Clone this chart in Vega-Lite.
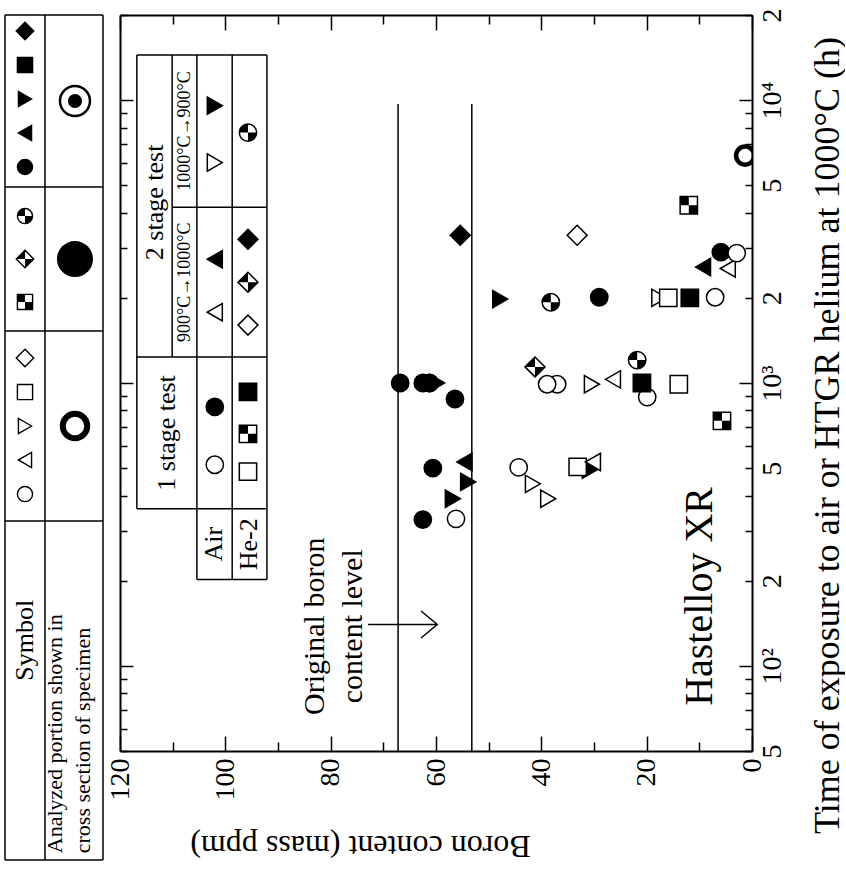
{
  "$schema": "https://vega.github.io/schema/vega-lite/v6.json",
  "background": "white",
  "padding": {"left": 4, "top": 7, "right": 0, "bottom": 12},
  "spacing": 17,
  "bounds": "flush",
  "config": {
    "view": {"stroke": null},
    "text": {"font": "Liberation Serif", "color": "black"},
    "axis": {"labelFont": "Liberation Serif", "titleFont": "Liberation Serif"}
  },
  "datasets": {
    "tlh": [
      {"u0": 0, "u1": 100, "v": 0},
      {"u0": 0, "u1": 100, "v": 20.36},
      {"u0": 0, "u1": 100, "v": 37.4},
      {"u0": 0, "u1": 100, "v": 59.88},
      {"u0": 0, "u1": 100, "v": 100}
    ],
    "tlv": [
      {"u": 0, "v0": 0, "v1": 100},
      {"u": 40.8, "v0": 0, "v1": 100},
      {"u": 100, "v0": 0, "v1": 100}
    ],
    "tsym": [
      {"u": 20.4, "v": 1.89, "sym": "d_fill"},
      {"u": 20.4, "v": 5.92, "sym": "sq_fill"},
      {"u": 20.4, "v": 9.94, "sym": "tr_fill"},
      {"u": 20.4, "v": 13.96, "sym": "tl_fill"},
      {"u": 20.4, "v": 17.99, "sym": "c_fill"},
      {"u": 20.4, "v": 23.79, "sym": "c_quarter"},
      {"u": 20.4, "v": 28.88, "sym": "d_half"},
      {"u": 20.4, "v": 33.96, "sym": "sq_check"},
      {"u": 20.4, "v": 40.59, "sym": "d_open"},
      {"u": 20.4, "v": 44.62, "sym": "sq_open"},
      {"u": 20.4, "v": 48.64, "sym": "tr_open"},
      {"u": 20.4, "v": 52.66, "sym": "tl_open"},
      {"u": 20.4, "v": 56.69, "sym": "c_open"}
    ],
    "tana": [
      {"u": 71.4, "v": 10.18, "kind": "dot_ring"},
      {"u": 71.4, "v": 28.88, "kind": "disc"},
      {"u": 71.4, "v": 48.64, "kind": "thick_ring"}
    ],
    "ttext1": [{"u": 20.4, "v": 74, "label": "Symbol"}],
    "ttext2": [{"u": 51.3, "v": 99.2, "label": "Analyzed portion shown in\ncross section of specimen"}],
    "levels": [
      {"b": 67.2, "t0": 50, "t1": 9700},
      {"b": 53.2, "t0": 50, "t1": 9700}
    ],
    "bv": [
      {"b": 116.8, "t0": 359, "t1": 14450},
      {"b": 110.1, "t0": 1235, "t1": 14450},
      {"b": 105.4, "t0": 202, "t1": 14450},
      {"b": 98.7, "t0": 202, "t1": 14450},
      {"b": 92.1, "t0": 202, "t1": 14450}
    ],
    "bh": [
      {"b0": 116.8, "b1": 92.1, "t": 14450},
      {"b0": 110.1, "b1": 92.1, "t": 4180},
      {"b0": 116.8, "b1": 92.1, "t": 1235},
      {"b0": 116.8, "b1": 92.1, "t": 359},
      {"b0": 105.4, "b1": 92.1, "t": 202}
    ],
    "tx26": [
      {"b": 113.4, "t": 4350, "label": "2 stage test"},
      {"b": 111.1, "t": 666, "label": "1 stage test"},
      {"b": 102.2, "t": 269, "label": "Air"},
      {"b": 95.6, "t": 269, "label": "He-2"}
    ],
    "tx18": [
      {"b": 107.7, "t": 2272, "label": "900°C→1000°C"},
      {"b": 107.7, "t": 7776, "label": "1000°C→900°C"}
    ],
    "tx30": [{"b": 83.0, "t": 138, "label": "Original boron\ncontent level"}],
    "tx40": [{"b": 9.9, "t": 176, "label": "Hastelloy XR"}],
    "arrow": [{"b0": 72.9, "b1": 59.8, "t": 140}],
    "arrowhead": [{"b": 61.3, "t": 140}],
    "pts": [
      {"b": 55.4, "t": 3330, "sym": "d_fill"},
      {"b": 33.2, "t": 3330, "sym": "d_open"},
      {"b": 12.0, "t": 4250, "sym": "sq_check"},
      {"b": 9.3, "t": 2570, "sym": "tl_fill"},
      {"b": 4.6, "t": 2540, "sym": "tl_open"},
      {"b": 5.9, "t": 2900, "sym": "c_fill"},
      {"b": 2.9, "t": 2880, "sym": "c_open"},
      {"b": 47.8, "t": 1980, "sym": "tr_fill"},
      {"b": 38.2, "t": 1930, "sym": "c_quarter"},
      {"b": 29.0, "t": 2010, "sym": "c_fill"},
      {"b": 17.6, "t": 2000, "sym": "tr_open"},
      {"b": 15.9, "t": 2000, "sym": "sq_open"},
      {"b": 11.8, "t": 2000, "sym": "sq_fill"},
      {"b": 7.0, "t": 2010, "sym": "c_open"},
      {"b": 41.2, "t": 1140, "sym": "d_half"},
      {"b": 37.0, "t": 990, "sym": "c_open"},
      {"b": 38.9, "t": 990, "sym": "c_open"},
      {"b": 30.4, "t": 990, "sym": "tr_open"},
      {"b": 26.4, "t": 1030, "sym": "tl_open"},
      {"b": 21.8, "t": 1205, "sym": "c_quarter"},
      {"b": 19.9, "t": 892, "sym": "c_open"},
      {"b": 20.9, "t": 1000, "sym": "sq_fill"},
      {"b": 13.9, "t": 990, "sym": "sq_open"},
      {"b": 5.7, "t": 735, "sym": "sq_check"},
      {"b": 66.8, "t": 1000, "sym": "c_fill"},
      {"b": 62.5, "t": 1000, "sym": "c_fill"},
      {"b": 61.2, "t": 1000, "sym": "c_fill"},
      {"b": 59.8, "t": 1000, "sym": "tr_fill"},
      {"b": 56.4, "t": 878, "sym": "c_fill"},
      {"b": 60.6, "t": 500, "sym": "c_fill"},
      {"b": 54.6, "t": 526, "sym": "tl_fill"},
      {"b": 53.9, "t": 447, "sym": "tr_fill"},
      {"b": 56.8, "t": 390, "sym": "tr_fill"},
      {"b": 62.5, "t": 329, "sym": "c_fill"},
      {"b": 56.2, "t": 331, "sym": "c_open"},
      {"b": 44.3, "t": 503, "sym": "c_open"},
      {"b": 41.6, "t": 440, "sym": "tr_open"},
      {"b": 38.7, "t": 390, "sym": "tr_open"},
      {"b": 30.8, "t": 494, "sym": "tr_fill"},
      {"b": 33.1, "t": 505, "sym": "sq_open"},
      {"b": 30.2, "t": 526, "sym": "tl_open"},
      {"b": 1.3, "t": 6370, "sym": "ring_bold"},
      {"b": 102.0, "t": 9563, "sym": "tr_fill"},
      {"b": 102.0, "t": 6018, "sym": "tr_open"},
      {"b": 102.0, "t": 2738, "sym": "tl_fill"},
      {"b": 102.0, "t": 1780, "sym": "tl_open"},
      {"b": 102.0, "t": 823, "sym": "c_fill"},
      {"b": 102.0, "t": 514, "sym": "c_open"},
      {"b": 95.7, "t": 7680, "sym": "c_quarter"},
      {"b": 95.7, "t": 3220, "sym": "d_fill"},
      {"b": 95.7, "t": 2272, "sym": "d_half"},
      {"b": 95.7, "t": 1602, "sym": "d_open"},
      {"b": 95.7, "t": 930, "sym": "sq_fill"},
      {"b": 95.7, "t": 661, "sym": "sq_check"},
      {"b": 95.7, "t": 486, "sym": "sq_open"}
    ]
  },
  "hconcat": [
    {
      "width": 98,
      "height": 845,
      "layer": [
        {
          "data": {"name": "tlh"},
          "mark": {"type": "rule", "color": "black", "strokeWidth": 1.5},
          "encoding": {
            "x": {"field": "u0", "type": "quantitative", "scale": {"domain": [0, 100], "nice": false, "zero": false}, "axis": null},
            "x2": {"field": "u1"},
            "y": {"field": "v", "type": "quantitative", "scale": {"domain": [0, 100], "reverse": true, "nice": false, "zero": false}, "axis": null}
          }
        },
        {
          "data": {"name": "tlv"},
          "mark": {"type": "rule", "color": "black", "strokeWidth": 1.5},
          "encoding": {
            "x": {"field": "u", "type": "quantitative", "scale": {"domain": [0, 100], "nice": false, "zero": false}, "axis": null},
            "y": {"field": "v0", "type": "quantitative", "scale": {"domain": [0, 100], "reverse": true, "nice": false, "zero": false}, "axis": null},
            "y2": {"field": "v1"}
          }
        },
        {
          "data": {"name": "tsym"},
          "mark": {"type": "point", "filled": true, "stroke": "black", "strokeWidth": 1.4, "size": 230, "opacity": 1},
          "encoding": {
            "x": {"field": "u", "type": "quantitative", "scale": {"domain": [0, 100], "nice": false, "zero": false}, "axis": null},
            "y": {"field": "v", "type": "quantitative", "scale": {"domain": [0, 100], "reverse": true, "nice": false, "zero": false}, "axis": null},
            "shape": {"field": "sym", "type": "nominal", "legend": null, "scale": {"domain": ["c_open", "c_fill", "c_quarter", "sq_open", "sq_check", "sq_fill", "tl_open", "tl_fill", "tr_open", "tr_fill", "d_open", "d_half", "d_fill"], "range": ["circle", "circle", "circle", "square", "square", "square", "triangle-left", "triangle-left", "triangle-right", "triangle-right", "M-1.15,0L0,-1.15L1.15,0L0,1.15Z", "M-1.15,0L0,-1.15L1.15,0L0,1.15Z", "M-1.15,0L0,-1.15L1.15,0L0,1.15Z"]}},
            "fill": {"field": "sym", "type": "nominal", "legend": null, "scale": {"domain": ["c_open", "c_fill", "c_quarter", "sq_open", "sq_check", "sq_fill", "tl_open", "tl_fill", "tr_open", "tr_fill", "d_open", "d_half", "d_fill"], "range": ["white", "black", "white", "white", "white", "black", "white", "black", "white", "black", "white", "white", "black"]}}
          }
        },
        {
          "data": {"name": "tsym"},
          "transform": [{"filter": "datum.sym == 'sq_check'"}],
          "mark": {"type": "point", "shape": "M-1,-1H0V0H-1Z M0,0H1V1H0Z", "filled": true, "fill": "black", "strokeWidth": 0, "size": 230, "opacity": 1},
          "encoding": {
            "x": {"field": "u", "type": "quantitative", "scale": {"domain": [0, 100], "nice": false, "zero": false}, "axis": null},
            "y": {"field": "v", "type": "quantitative", "scale": {"domain": [0, 100], "reverse": true, "nice": false, "zero": false}, "axis": null}
          }
        },
        {
          "data": {"name": "tsym"},
          "transform": [{"filter": "datum.sym == 'c_quarter'"}],
          "mark": {"type": "point", "shape": "M0,0L-1,0A1,1 0 0 1 0,-1Z M0,0L1,0A1,1 0 0 1 0,1Z", "filled": true, "fill": "black", "strokeWidth": 0, "size": 230, "opacity": 1},
          "encoding": {
            "x": {"field": "u", "type": "quantitative", "scale": {"domain": [0, 100], "nice": false, "zero": false}, "axis": null},
            "y": {"field": "v", "type": "quantitative", "scale": {"domain": [0, 100], "reverse": true, "nice": false, "zero": false}, "axis": null}
          }
        },
        {
          "data": {"name": "tsym"},
          "transform": [{"filter": "datum.sym == 'd_half'"}],
          "mark": {"type": "point", "shape": "M0,-1.15L-1.15,0L0,0Z M0,1.15L1.15,0L0,0Z", "filled": true, "fill": "black", "strokeWidth": 0, "size": 230, "opacity": 1},
          "encoding": {
            "x": {"field": "u", "type": "quantitative", "scale": {"domain": [0, 100], "nice": false, "zero": false}, "axis": null},
            "y": {"field": "v", "type": "quantitative", "scale": {"domain": [0, 100], "reverse": true, "nice": false, "zero": false}, "axis": null}
          }
        },
        {
          "data": {"name": "tana"},
          "transform": [{"filter": "datum.kind == 'dot_ring'"}],
          "mark": {"type": "point", "shape": "circle", "filled": false, "stroke": "black", "strokeWidth": 2.5, "size": 900, "opacity": 1},
          "encoding": {
            "x": {"field": "u", "type": "quantitative", "scale": {"domain": [0, 100], "nice": false, "zero": false}, "axis": null},
            "y": {"field": "v", "type": "quantitative", "scale": {"domain": [0, 100], "reverse": true, "nice": false, "zero": false}, "axis": null}
          }
        },
        {
          "data": {"name": "tana"},
          "transform": [{"filter": "datum.kind == 'dot_ring'"}],
          "mark": {"type": "point", "shape": "circle", "filled": true, "fill": "black", "size": 200, "opacity": 1},
          "encoding": {
            "x": {"field": "u", "type": "quantitative", "scale": {"domain": [0, 100], "nice": false, "zero": false}, "axis": null},
            "y": {"field": "v", "type": "quantitative", "scale": {"domain": [0, 100], "reverse": true, "nice": false, "zero": false}, "axis": null}
          }
        },
        {
          "data": {"name": "tana"},
          "transform": [{"filter": "datum.kind == 'disc'"}],
          "mark": {"type": "point", "shape": "circle", "filled": true, "fill": "black", "size": 1300, "opacity": 1},
          "encoding": {
            "x": {"field": "u", "type": "quantitative", "scale": {"domain": [0, 100], "nice": false, "zero": false}, "axis": null},
            "y": {"field": "v", "type": "quantitative", "scale": {"domain": [0, 100], "reverse": true, "nice": false, "zero": false}, "axis": null}
          }
        },
        {
          "data": {"name": "tana"},
          "transform": [{"filter": "datum.kind == 'thick_ring'"}],
          "mark": {"type": "point", "shape": "circle", "filled": false, "stroke": "black", "strokeWidth": 6, "size": 600, "opacity": 1},
          "encoding": {
            "x": {"field": "u", "type": "quantitative", "scale": {"domain": [0, 100], "nice": false, "zero": false}, "axis": null},
            "y": {"field": "v", "type": "quantitative", "scale": {"domain": [0, 100], "reverse": true, "nice": false, "zero": false}, "axis": null}
          }
        },
        {
          "data": {"name": "ttext1"},
          "mark": {"type": "text", "angle": 270, "font": "Liberation Serif", "fontSize": 26, "align": "center", "baseline": "middle", "color": "black"},
          "encoding": {
            "x": {"field": "u", "type": "quantitative", "scale": {"domain": [0, 100], "nice": false, "zero": false}, "axis": null},
            "y": {"field": "v", "type": "quantitative", "scale": {"domain": [0, 100], "reverse": true, "nice": false, "zero": false}, "axis": null},
            "text": {"field": "label"}
          }
        },
        {
          "data": {"name": "ttext2"},
          "mark": {"type": "text", "angle": 270, "font": "Liberation Serif", "fontSize": 22, "lineHeight": 28, "lineBreak": "\n", "align": "left", "baseline": "middle", "color": "black"},
          "encoding": {
            "x": {"field": "u", "type": "quantitative", "scale": {"domain": [0, 100], "nice": false, "zero": false}, "axis": null},
            "y": {"field": "v", "type": "quantitative", "scale": {"domain": [0, 100], "reverse": true, "nice": false, "zero": false}, "axis": null},
            "text": {"field": "label"}
          }
        }
      ]
    },
    {
      "width": 632,
      "height": 736,
      "resolve": {"axis": {"x": "independent", "y": "independent"}},
      "layer": [
        {
          "data": {"name": "levels"},
          "mark": {"type": "rule", "color": "black", "strokeWidth": 1.5},
          "encoding": {
            "x": {"field": "b", "type": "quantitative", "scale": {"domain": [0, 120], "reverse": true, "nice": false, "zero": false},
              "axis": {"orient": "bottom", "values": [0, 20, 40, 60, 80, 100, 120], "domainColor": "black", "domainWidth": 2, "tickColor": "black", "tickWidth": 1.5, "tickSize": -15, "labelAngle": 270, "labelAlign": "right", "labelBaseline": "middle", "labelPadding": 22, "labelFont": "Liberation Serif", "labelFontSize": 28, "labelColor": "black", "labelFlush": false, "labelOverlap": false, "labelBound": false, "grid": false, "title": "Boron content (mass ppm)", "titleFont": "Liberation Serif", "titleFontSize": 32, "titleFontWeight": "normal", "titleColor": "black", "titleAngle": 180, "titleAlign": "center", "titleBaseline": "middle", "titleX": 240, "titleY": 94}},
            "y": {"field": "t0", "type": "quantitative", "scale": {"type": "log", "domain": [50, 20000], "nice": false},
              "axis": {"orient": "right", "values": [50, 60, 70, 80, 90, 200, 300, 400, 500, 600, 700, 800, 900, 2000, 3000, 4000, 5000, 6000, 7000, 8000, 9000, 20000], "domain": false, "tickColor": "black", "tickWidth": 1.5, "tickSize": -7, "labelExpr": "datum.value == 50 || datum.value == 500 || datum.value == 5000 ? '5' : (datum.value == 200 || datum.value == 2000 || datum.value == 20000 ? '2' : '')", "labelAngle": 270, "labelAlign": "center", "labelBaseline": "top", "labelPadding": 13, "labelFont": "Liberation Serif", "labelFontSize": 28, "labelColor": "black", "labelFlush": false, "labelOverlap": false, "labelBound": false, "grid": false, "title": null}},
            "y2": {"field": "t1"}
          }
        },
        {
          "data": {"name": "bv"},
          "mark": {"type": "rule", "color": "black", "strokeWidth": 1.5},
          "encoding": {
            "x": {"field": "b", "type": "quantitative", "scale": {"domain": [0, 120], "reverse": true, "nice": false, "zero": false},
              "axis": {"orient": "top", "values": [0, 20, 40, 60, 80, 100, 120], "domainColor": "black", "domainWidth": 2, "tickColor": "black", "tickWidth": 1.5, "tickSize": -15, "labels": false, "grid": false, "title": null}},
            "y": {"field": "t0", "type": "quantitative", "scale": {"type": "log", "domain": [50, 20000], "nice": false},
              "axis": {"orient": "right", "values": [100, 1000, 10000], "domainColor": "black", "domainWidth": 2, "tickColor": "black", "tickWidth": 1.5, "tickSize": -13, "labelExpr": "datum.value == 100 ? '10²' : (datum.value == 1000 ? '10³' : '10⁴')", "labelAngle": 270, "labelAlign": "center", "labelBaseline": "top", "labelPadding": 19, "labelFont": "Liberation Serif", "labelFontSize": 28, "labelColor": "black", "labelFlush": false, "labelOverlap": false, "labelBound": false, "grid": false, "title": "Time of exposure to air or HTGR helium at 1000°C (h)", "titleFont": "Liberation Serif", "titleFontSize": 36, "titleFontWeight": "normal", "titleColor": "black", "titleAngle": 270, "titleAlign": "center", "titleBaseline": "middle", "titleX": 75, "titleY": 420}},
            "y2": {"field": "t1"}
          }
        },
        {
          "data": {"name": "bh"},
          "mark": {"type": "rule", "color": "black", "strokeWidth": 1.5},
          "encoding": {
            "x": {"field": "b0", "type": "quantitative", "scale": {"domain": [0, 120], "reverse": true, "nice": false, "zero": false},
              "axis": {"orient": "bottom", "values": [10, 30, 50, 70, 90, 110], "domain": false, "tickColor": "black", "tickWidth": 1.5, "tickSize": -9, "labels": false, "grid": false, "title": null}},
            "x2": {"field": "b1"},
            "y": {"field": "t", "type": "quantitative", "scale": {"type": "log", "domain": [50, 20000], "nice": false},
              "axis": {"orient": "left", "values": [100, 1000, 10000], "domainColor": "black", "domainWidth": 2, "tickColor": "black", "tickWidth": 1.5, "tickSize": -13, "labels": false, "grid": false, "title": null}}
          }
        },
        {
          "data": {"name": "tx26"},
          "mark": {"type": "text", "angle": 270, "font": "Liberation Serif", "fontSize": 26, "align": "center", "baseline": "middle", "color": "black"},
          "encoding": {
            "x": {"field": "b", "type": "quantitative", "scale": {"domain": [0, 120], "reverse": true, "nice": false, "zero": false},
              "axis": {"orient": "top", "values": [10, 30, 50, 70, 90, 110], "domain": false, "tickColor": "black", "tickWidth": 1.5, "tickSize": -9, "labels": false, "grid": false, "title": null}},
            "y": {"field": "t", "type": "quantitative", "scale": {"type": "log", "domain": [50, 20000], "nice": false},
              "axis": {"orient": "left", "values": [50, 60, 70, 80, 90, 200, 300, 400, 500, 600, 700, 800, 900, 2000, 3000, 4000, 5000, 6000, 7000, 8000, 9000, 20000], "domain": false, "tickColor": "black", "tickWidth": 1.5, "tickSize": -7, "labels": false, "grid": false, "title": null}},
            "text": {"field": "label"}
          }
        },
        {
          "data": {"name": "tx18"},
          "mark": {"type": "text", "angle": 270, "font": "Liberation Serif", "fontSize": 18, "align": "center", "baseline": "middle", "color": "black"},
          "encoding": {
            "x": {"field": "b", "type": "quantitative", "scale": {"domain": [0, 120], "reverse": true, "nice": false, "zero": false}, "axis": null},
            "y": {"field": "t", "type": "quantitative", "scale": {"type": "log", "domain": [50, 20000], "nice": false}, "axis": null},
            "text": {"field": "label"}
          }
        },
        {
          "data": {"name": "tx30"},
          "mark": {"type": "text", "angle": 270, "font": "Liberation Serif", "fontSize": 30, "lineHeight": 38, "lineBreak": "\n", "align": "center", "baseline": "middle", "color": "black"},
          "encoding": {
            "x": {"field": "b", "type": "quantitative", "scale": {"domain": [0, 120], "reverse": true, "nice": false, "zero": false}, "axis": null},
            "y": {"field": "t", "type": "quantitative", "scale": {"type": "log", "domain": [50, 20000], "nice": false}, "axis": null},
            "text": {"field": "label"}
          }
        },
        {
          "data": {"name": "tx40"},
          "mark": {"type": "text", "angle": 270, "font": "Liberation Serif", "fontSize": 40, "align": "center", "baseline": "middle", "color": "black"},
          "encoding": {
            "x": {"field": "b", "type": "quantitative", "scale": {"domain": [0, 120], "reverse": true, "nice": false, "zero": false}, "axis": null},
            "y": {"field": "t", "type": "quantitative", "scale": {"type": "log", "domain": [50, 20000], "nice": false}, "axis": null},
            "text": {"field": "label"}
          }
        },
        {
          "data": {"name": "arrow"},
          "mark": {"type": "rule", "color": "black", "strokeWidth": 1.5},
          "encoding": {
            "x": {"field": "b0", "type": "quantitative", "scale": {"domain": [0, 120], "reverse": true, "nice": false, "zero": false}, "axis": null},
            "x2": {"field": "b1"},
            "y": {"field": "t", "type": "quantitative", "scale": {"type": "log", "domain": [50, 20000], "nice": false}, "axis": null}
          }
        },
        {
          "data": {"name": "arrowhead"},
          "mark": {"type": "point", "shape": "M-0.6,-1L0.6,0L-0.6,1", "filled": false, "stroke": "black", "strokeWidth": 1.5, "size": 729, "opacity": 1},
          "encoding": {
            "x": {"field": "b", "type": "quantitative", "scale": {"domain": [0, 120], "reverse": true, "nice": false, "zero": false}, "axis": null},
            "y": {"field": "t", "type": "quantitative", "scale": {"type": "log", "domain": [50, 20000], "nice": false}, "axis": null}
          }
        },
        {
          "data": {"name": "pts"},
          "transform": [{"filter": "datum.sym != 'ring_bold'"}],
          "mark": {"type": "point", "filled": true, "stroke": "black", "strokeWidth": 1.5, "size": 300, "opacity": 1},
          "encoding": {
            "x": {"field": "b", "type": "quantitative", "scale": {"domain": [0, 120], "reverse": true, "nice": false, "zero": false}, "axis": null},
            "y": {"field": "t", "type": "quantitative", "scale": {"type": "log", "domain": [50, 20000], "nice": false}, "axis": null},
            "shape": {"field": "sym", "type": "nominal", "legend": null, "scale": {"domain": ["c_open", "c_fill", "c_quarter", "sq_open", "sq_check", "sq_fill", "tl_open", "tl_fill", "tr_open", "tr_fill", "d_open", "d_half", "d_fill"], "range": ["circle", "circle", "circle", "square", "square", "square", "triangle-left", "triangle-left", "triangle-right", "triangle-right", "M-1.15,0L0,-1.15L1.15,0L0,1.15Z", "M-1.15,0L0,-1.15L1.15,0L0,1.15Z", "M-1.15,0L0,-1.15L1.15,0L0,1.15Z"]}},
            "fill": {"field": "sym", "type": "nominal", "legend": null, "scale": {"domain": ["c_open", "c_fill", "c_quarter", "sq_open", "sq_check", "sq_fill", "tl_open", "tl_fill", "tr_open", "tr_fill", "d_open", "d_half", "d_fill"], "range": ["white", "black", "white", "white", "white", "black", "white", "black", "white", "black", "white", "white", "black"]}}
          }
        },
        {
          "data": {"name": "pts"},
          "transform": [{"filter": "datum.sym == 'sq_check'"}],
          "mark": {"type": "point", "shape": "M-1,-1H0V0H-1Z M0,0H1V1H0Z", "filled": true, "fill": "black", "strokeWidth": 0, "size": 300, "opacity": 1},
          "encoding": {
            "x": {"field": "b", "type": "quantitative", "scale": {"domain": [0, 120], "reverse": true, "nice": false, "zero": false}, "axis": null},
            "y": {"field": "t", "type": "quantitative", "scale": {"type": "log", "domain": [50, 20000], "nice": false}, "axis": null}
          }
        },
        {
          "data": {"name": "pts"},
          "transform": [{"filter": "datum.sym == 'c_quarter'"}],
          "mark": {"type": "point", "shape": "M0,0L-1,0A1,1 0 0 1 0,-1Z M0,0L1,0A1,1 0 0 1 0,1Z", "filled": true, "fill": "black", "strokeWidth": 0, "size": 300, "opacity": 1},
          "encoding": {
            "x": {"field": "b", "type": "quantitative", "scale": {"domain": [0, 120], "reverse": true, "nice": false, "zero": false}, "axis": null},
            "y": {"field": "t", "type": "quantitative", "scale": {"type": "log", "domain": [50, 20000], "nice": false}, "axis": null}
          }
        },
        {
          "data": {"name": "pts"},
          "transform": [{"filter": "datum.sym == 'd_half'"}],
          "mark": {"type": "point", "shape": "M0,-1.15L-1.15,0L0,0Z M0,1.15L1.15,0L0,0Z", "filled": true, "fill": "black", "strokeWidth": 0, "size": 300, "opacity": 1},
          "encoding": {
            "x": {"field": "b", "type": "quantitative", "scale": {"domain": [0, 120], "reverse": true, "nice": false, "zero": false}, "axis": null},
            "y": {"field": "t", "type": "quantitative", "scale": {"type": "log", "domain": [50, 20000], "nice": false}, "axis": null}
          }
        },
        {
          "data": {"name": "pts"},
          "transform": [{"filter": "datum.sym == 'ring_bold'"}],
          "mark": {"type": "point", "shape": "circle", "filled": false, "stroke": "black", "strokeWidth": 4.5, "size": 330, "opacity": 1, "clip": true},
          "encoding": {
            "x": {"field": "b", "type": "quantitative", "scale": {"domain": [0, 120], "reverse": true, "nice": false, "zero": false}, "axis": null},
            "y": {"field": "t", "type": "quantitative", "scale": {"type": "log", "domain": [50, 20000], "nice": false}, "axis": null}
          }
        }
      ]
    }
  ]
}
